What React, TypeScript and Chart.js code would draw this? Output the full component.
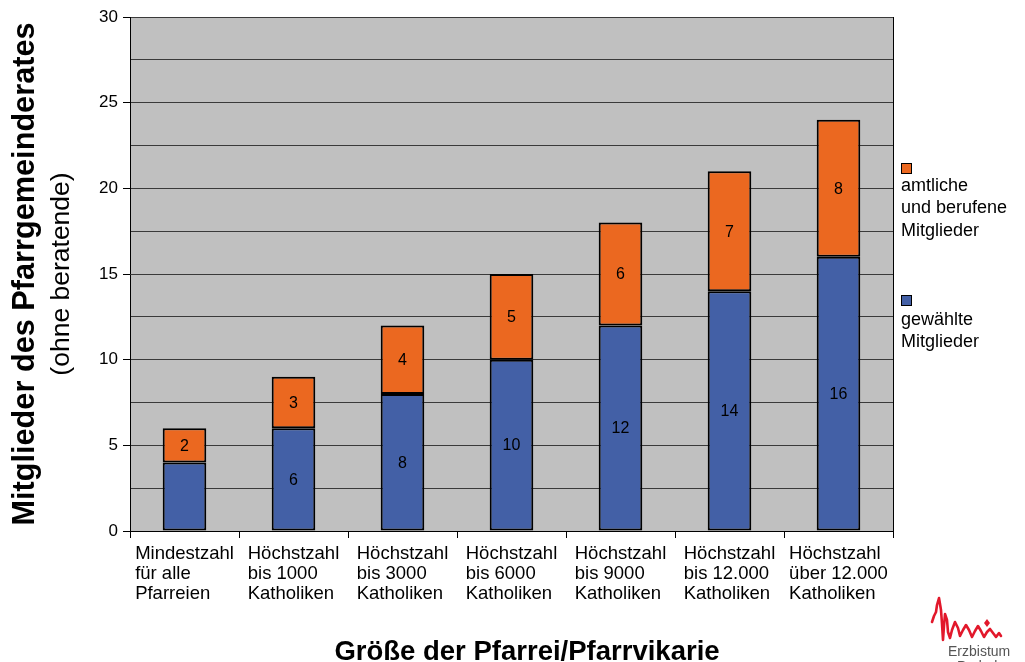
import React, { useEffect, useRef } from "react";
import { Chart, registerables } from "chart.js";

Chart.register(...registerables);

const categories: string[][] = [
  ["Mindestzahl", "für alle", "Pfarreien"],
  ["Höchstzahl", "bis 1000", "Katholiken"],
  ["Höchstzahl", "bis 3000", "Katholiken"],
  ["Höchstzahl", "bis 6000", "Katholiken"],
  ["Höchstzahl", "bis 9000", "Katholiken"],
  ["Höchstzahl", "bis 12.000", "Katholiken"],
  ["Höchstzahl", "über 12.000", "Katholiken"],
];
const gewaehlte = [4, 6, 8, 10, 12, 14, 16];
const amtliche = [2, 3, 4, 5, 6, 7, 8];
const gewaehlteLabels: (number | null)[] = [null, 6, 8, 10, 12, 14, 16];
const amtlicheLabels: (number | null)[] = [2, 3, 4, 5, 6, 7, 8];
const seriesNames = ["gewählte Mitglieder", "amtliche und berufene Mitglieder"];
const legendLinesOrange = ["amtliche", "und berufene", "Mitglieder"];
const legendLinesBlue = ["gewählte", "Mitglieder"];
const yMin = 0;
const yMax = 30;
const yGridStep = 2.5;
const yLabelStep = 5;
const yTitle = "Mitglieder des Pfarrgemeinderates";
const ySubTitle = "(ohne beratende)";
const xTitle = "Größe der Pfarrei/Pfarrvikarie";

const BLUE = "#4360A6";
const ORANGE = "#EB6820";
const FONT = "'Liberation Sans', Arial, sans-serif";

const decorPlugin = {
  id: "decor",
  beforeDraw(chart: any) {
    const { ctx, chartArea } = chart;
    ctx.save();
    ctx.fillStyle = "#ffffff";
    ctx.fillRect(0, 0, chart.width, chart.height);
    ctx.fillStyle = "#C0C0C0";
    ctx.fillRect(chartArea.left, chartArea.top, chartArea.right - chartArea.left, chartArea.bottom - chartArea.top);
    ctx.restore();
  },
  afterDatasetsDraw(chart: any) {
    const { ctx } = chart;
    const labelSets = [gewaehlteLabels, amtlicheLabels];
    ctx.save();
    ctx.font = `16px ${FONT}`;
    ctx.fillStyle = "#000";
    ctx.textAlign = "center";
    ctx.textBaseline = "middle";
    labelSets.forEach((labels, di) => {
      const meta = chart.getDatasetMeta(di);
      meta.data.forEach((el: any, i: number) => {
        const v = labels[i];
        if (v === null || v === undefined) return;
        const p = el.getProps(["x", "y", "base"], true);
        ctx.fillText(String(v), p.x, (p.y + p.base) / 2 + 1);
      });
    });
    ctx.restore();
  },
  afterDraw(chart: any) {
    const { ctx, chartArea } = chart;
    const xs = chart.scales.x;
    ctx.save();
    ctx.strokeStyle = "#000";
    ctx.lineWidth = 1;
    ctx.beginPath();
    ctx.moveTo(chartArea.right + 0.5, chartArea.top);
    ctx.lineTo(chartArea.right + 0.5, chartArea.bottom);
    ctx.stroke();

    // category labels: block centered, lines left aligned
    ctx.font = `18.5px ${FONT}`;
    ctx.fillStyle = "#000";
    ctx.textBaseline = "middle";
    ctx.textAlign = "left";
    categories.forEach((lines, i) => {
      const cx = xs.getPixelForValue(i);
      const w = Math.max(...lines.map((l) => ctx.measureText(l).width));
      const x0 = cx - w / 2;
      lines.forEach((l, k) => {
        ctx.fillText(l, x0, chartArea.bottom + 23 + k * 20);
      });
    });

    // y titles
    const cy = (chartArea.top + chartArea.bottom) / 2;
    ctx.save();
    ctx.translate(26, cy);
    ctx.rotate(-Math.PI / 2);
    ctx.textAlign = "center";
    ctx.textBaseline = "middle";
    ctx.font = `bold 30.7px ${FONT}`;
    ctx.fillText(yTitle, 0, 0);
    ctx.restore();
    ctx.save();
    ctx.translate(62, cy);
    ctx.rotate(-Math.PI / 2);
    ctx.textAlign = "center";
    ctx.textBaseline = "middle";
    ctx.font = `26.5px ${FONT}`;
    ctx.fillText(ySubTitle, 0, 0);
    ctx.restore();

    // x title
    ctx.textAlign = "center";
    ctx.textBaseline = "middle";
    ctx.font = `bold 27.5px ${FONT}`;
    ctx.fillText(xTitle, 527, 652);

    // legend
    const lx = chartArea.right + 8;
    ctx.lineWidth = 1;
    ctx.strokeStyle = "#000";
    ctx.fillStyle = ORANGE;
    ctx.fillRect(lx + 0.5, 163.5, 10, 10);
    ctx.strokeRect(lx + 0.5, 163.5, 10, 10);
    ctx.fillStyle = BLUE;
    ctx.fillRect(lx + 0.5, 295.5, 10, 10);
    ctx.strokeRect(lx + 0.5, 295.5, 10, 10);
    ctx.fillStyle = "#000";
    ctx.textAlign = "left";
    ctx.font = `18px ${FONT}`;
    legendLinesOrange.forEach((l, k) => ctx.fillText(l, lx, 186 + k * 22.5));
    legendLinesBlue.forEach((l, k) => ctx.fillText(l, lx, 320 + k * 22.5));

    // logo
    ctx.strokeStyle = "#E2182B";
    ctx.lineWidth = 2.6;
    ctx.lineJoin = "round";
    ctx.lineCap = "round";
    ctx.beginPath();
    const pts = [
      [932, 622], [934, 616], [936, 612], [937, 605], [939, 598], [941, 610], [942, 624],
      [943, 640], [944, 626], [945, 614], [947, 620], [948, 632], [950, 638],
      [952, 630], [955, 622], [958, 628], [960, 636], [963, 630], [966, 625],
      [969, 630], [972, 637], [975, 631], [978, 626], [981, 631], [984, 637],
      [987, 632], [990, 629], [993, 633], [996, 637], [999, 633], [1001, 636],
    ];
    pts.forEach(([x, y], i) => (i === 0 ? ctx.moveTo(x, y) : ctx.lineTo(x, y)));
    ctx.stroke();
    ctx.beginPath();
    ctx.moveTo(987, 619);
    ctx.lineTo(990, 623);
    ctx.lineTo(987, 627);
    ctx.lineTo(984, 623);
    ctx.closePath();
    ctx.fillStyle = "#E2182B";
    ctx.fill();
    ctx.fillStyle = "#555";
    ctx.font = `14px ${FONT}`;
    ctx.textAlign = "left";
    ctx.textBaseline = "alphabetic";
    ctx.fillText("Erzbistum", 948, 656);
    ctx.fillText("Paderborn", 957, 671);
    ctx.restore();
  },
};

export default function App() {
  const ref = useRef<HTMLCanvasElement | null>(null);
  useEffect(() => {
    document.body.style.margin = "0";
    const canvas = ref.current;
    if (!canvas) return;
    const chart = new Chart(canvas, {
      type: "bar",
      data: {
        labels: categories.map((c) => c.join(" ")),
        datasets: [
          {
            label: seriesNames[0],
            data: gewaehlte,
            backgroundColor: BLUE,
            borderColor: "#000",
            borderWidth: 2,
            borderSkipped: false,
            barPercentage: 0.4,
            categoryPercentage: 1,
          },
          {
            label: seriesNames[1],
            data: amtliche,
            backgroundColor: ORANGE,
            borderColor: "#000",
            borderWidth: 2,
            borderSkipped: false,
            barPercentage: 0.4,
            categoryPercentage: 1,
          },
        ],
      },
      options: {
        responsive: false,
        animation: false,
        devicePixelRatio: 1,
        layout: { padding: { left: 0, right: 132, top: 17, bottom: 124 } },
        plugins: { legend: { display: false }, tooltip: { enabled: false } },
        scales: {
          x: {
            stacked: true,
            afterFit: (s: any) => {
              s.height = 7;
            },
            grid: {
              offset: true,
              drawOnChartArea: false,
              drawTicks: true,
              tickLength: 7,
              tickColor: "#000",
            },
            border: { display: true, color: "#000", width: 1 },
            ticks: { display: false },
          },
          y: {
            stacked: true,
            min: yMin,
            max: yMax,
            afterFit: (s: any) => {
              s.width = 130;
            },
            ticks: {
              stepSize: yGridStep,
              padding: 5,
              color: "#000",
              font: { family: FONT, size: 17 },
              callback: (v: any) => (Number(v) % yLabelStep === 0 ? String(v) : ""),
            },
            grid: {
              color: "#3a3a3a",
              lineWidth: 1,
              tickLength: 7,
              tickColor: (c: any) =>
                c.tick && c.tick.value % yLabelStep === 0 ? "#000" : "rgba(0,0,0,0)",
            },
            border: { display: true, color: "#000", width: 1 },
          },
        },
      },
      plugins: [decorPlugin],
    });
    return () => chart.destroy();
  }, []);
  return (
    <div style={{ width: 1025, height: 662, position: "relative" }}>
      <canvas ref={ref} width={1025} height={662} style={{ display: "block" }} />
    </div>
  );
}
